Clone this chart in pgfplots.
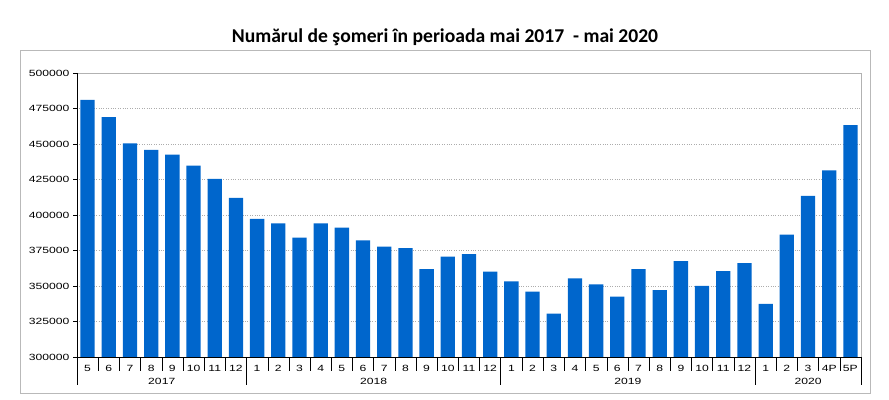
\documentclass[border=0pt]{standalone}
\usepackage{fontspec}
\usepackage{pgfplots}
\pgfplotsset{compat=1.18}
\setmainfont{Liberation Sans}
\newfontfamily\titlefont{Carlito}
\newfontfamily\tickfont[FakeStretch=1.35]{Liberation Sans}
\definecolor{barblue}{RGB}{0,102,204}
\pgfplotstableread{
x y
0 481000
1 469000
2 450400
3 445900
4 442600
5 434800
6 425400
7 412000
8 397200
9 394100
10 384000
11 394100
12 391100
13 382100
14 377700
15 376700
16 361900
17 370600
18 372500
19 360200
20 353200
21 346100
22 330600
23 355300
24 351100
25 342600
26 361900
27 347100
28 367500
29 350100
30 360500
31 366100
32 337400
33 386100
34 413400
35 431500
36 463300
}\datatable
\begin{document}
\begin{tikzpicture}
\path[use as bounding box] (0pt,0pt) rectangle (889pt,399pt);
\draw[gray!55, line width=0.9pt] (20pt,6pt) rectangle (870pt,349pt);
\node[font=\titlefont\bfseries\fontsize{19.6}{22}\selectfont] at (445pt,362pt) {Numărul de şomeri în perioada mai 2017 \ - mai 2020};
\begin{axis}[
  at={(77pt,42pt)}, anchor=south west,
  scale only axis, width=784pt, height=284pt,
  xmin=-0.5, xmax=36.5, ymin=300000, ymax=500000,
  ytick={300000,325000,...,500000},
  scaled y ticks=false,
  /pgf/number format/.cd, fixed, set thousands separator={}, assume math mode=true,
  /pgfplots/.cd,
  xtick={0,...,36},
  xticklabels={5,6,7,8,9,10,11,12,1,2,3,4,5,6,7,8,9,10,11,12,1,2,3,4,5,6,7,8,9,10,11,12,1,2,3,4P,5P},
  tick label style={font=\tickfont\fontsize{9}{10}\selectfont},
  x tick label style={yshift=-1pt},
  xtick style={draw=none},
  ytick pos=left,
  tick align=outside, major tick length=4pt,
  ytick style={black, line width=0.5pt},
  ymajorgrids, major grid style={dotted, gray!65, line width=0.45pt},
  axis line style={gray!60, line width=0.7pt},
  clip=false,
  ybar, bar width=14.3pt,
]
\addplot[fill=barblue, draw=none] table[x=x,y=y] {\datatable};
\draw[black, line width=0.6pt] (rel axis cs:0,1) -- (rel axis cs:0,0) -- (rel axis cs:1,0);
\pgfplotsinvokeforeach{0.5,1.5,2.5,3.5,4.5,5.5,6.5,8.5,9.5,10.5,11.5,12.5,13.5,14.5,15.5,16.5,17.5,18.5,20.5,21.5,22.5,23.5,24.5,25.5,26.5,27.5,28.5,29.5,30.5,32.5,33.5,34.5,35.5}{
  \draw[black, line width=0.4pt] (axis cs:#1,300000) -- ++(0pt,-14pt);
}
\pgfplotsinvokeforeach{-0.5,7.5,19.5,31.5,36.5}{
  \draw[black, line width=0.6pt] (axis cs:#1,300000) -- ++(0pt,-28pt);
}
\node[font=\tickfont\fontsize{9}{10}\selectfont] at (axis cs:3.5,300000) [yshift=-24pt] {2017};
\node[font=\tickfont\fontsize{9}{10}\selectfont] at (axis cs:13.5,300000) [yshift=-24pt] {2018};
\node[font=\tickfont\fontsize{9}{10}\selectfont] at (axis cs:25.5,300000) [yshift=-24pt] {2019};
\node[font=\tickfont\fontsize{9}{10}\selectfont] at (axis cs:34,300000) [yshift=-24pt] {2020};
\end{axis}
\end{tikzpicture}
\end{document}
